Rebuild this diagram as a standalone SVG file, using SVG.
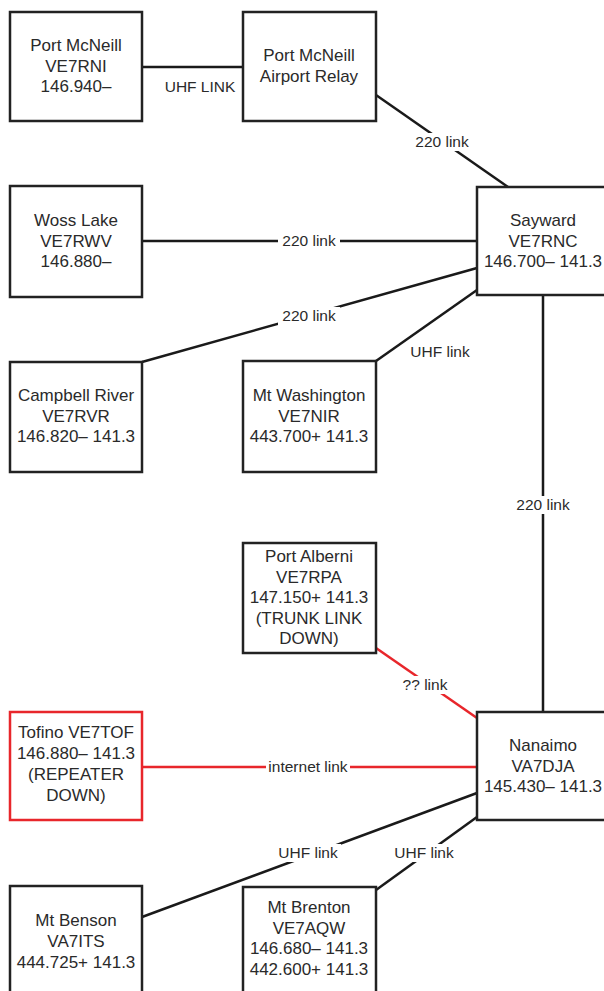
<svg xmlns="http://www.w3.org/2000/svg" width="604" height="991" viewBox="0 0 604 991">
<style>
.box{fill:#fff;stroke:#222;stroke-width:2.5}
.down{fill:#fff;stroke:#e8262b;stroke-width:2.5}
.t{font-family:"Liberation Sans",Arial,sans-serif;font-size:17px;fill:#2a2a2a;text-anchor:middle}
.e{stroke:#1a1a1a;stroke-width:2.5;fill:none}
.r{stroke:#e8262b;stroke-width:2.5;fill:none}
.l{font-family:"Liberation Sans",Arial,sans-serif;font-size:15.5px;fill:#2a2a2a;text-anchor:middle}
.bg{fill:#fff}
</style>
<rect width="604" height="991" fill="#fff"/>
<g id="connectors">
<line class="e" x1="142" y1="67" x2="243" y2="67"/>
<line class="e" x1="376" y1="95" x2="508" y2="187"/>
<line class="e" x1="142" y1="241" x2="477" y2="241"/>
<line class="e" x1="142" y1="362" x2="477" y2="268"/>
<line class="e" x1="376" y1="361" x2="477" y2="290"/>
<line class="e" x1="543" y1="295" x2="543" y2="712"/>
<line class="r" x1="376" y1="648" x2="477" y2="718"/>
<line class="r" x1="142" y1="767" x2="477" y2="767"/>
<line class="e" x1="142" y1="917" x2="477" y2="793"/>
<line class="e" x1="376" y1="890" x2="477" y2="817"/>
<rect class="bg" x="412" y="133" width="60" height="18"/>
<rect class="bg" x="278" y="232" width="62" height="18"/>
<rect class="bg" x="278" y="307" width="62" height="18"/>
<rect class="bg" x="512" y="496" width="62" height="18"/>
<rect class="bg" x="400" y="676" width="50" height="18"/>
<rect class="bg" x="266" y="758" width="84" height="18"/>
<rect class="bg" x="275" y="844" width="66" height="18"/>
<rect class="bg" x="391" y="844" width="66" height="18"/>
<text class="l" x="200" y="92">UHF LINK</text>
<text class="l" x="442" y="147">220 link</text>
<text class="l" x="309" y="246">220 link</text>
<text class="l" x="309" y="321">220 link</text>
<text class="l" x="440" y="357">UHF link</text>
<text class="l" x="543" y="510">220 link</text>
<text class="l" x="425" y="690">?? link</text>
<text class="l" x="308" y="772">internet link</text>
<text class="l" x="308" y="858">UHF link</text>
<text class="l" x="424" y="858">UHF link</text>
</g>
<g id="port-mcneill">
<rect class="box" x="10" y="12" width="132" height="109"/>
<text class="t" x="76" y="51">Port McNeill</text>
<text class="t" x="76" y="72">VE7RNI</text>
<text class="t" x="76" y="92">146.940–</text>
</g>
<g id="airport-relay">
<rect class="box" x="243" y="12" width="133" height="109"/>
<text class="t" x="309" y="61">Port McNeill</text>
<text class="t" x="309" y="82">Airport Relay</text>
</g>
<g id="woss-lake">
<rect class="box" x="10" y="186" width="132" height="111"/>
<text class="t" x="76" y="226">Woss Lake</text>
<text class="t" x="76" y="247">VE7RWV</text>
<text class="t" x="76" y="267">146.880–</text>
</g>
<g id="sayward">
<rect class="box" x="477" y="187" width="133" height="108"/>
<text class="t" x="543" y="226">Sayward</text>
<text class="t" x="543" y="247">VE7RNC</text>
<text class="t" x="543" y="267">146.700– 141.3</text>
</g>
<g id="campbell-river">
<rect class="box" x="10" y="362" width="132" height="110"/>
<text class="t" x="76" y="401">Campbell River</text>
<text class="t" x="76" y="422">VE7RVR</text>
<text class="t" x="76" y="442">146.820– 141.3</text>
</g>
<g id="mt-washington">
<rect class="box" x="243" y="361" width="133" height="111"/>
<text class="t" x="309" y="401">Mt Washington</text>
<text class="t" x="309" y="422">VE7NIR</text>
<text class="t" x="309" y="442">443.700+ 141.3</text>
</g>
<g id="port-alberni">
<rect class="box" x="243" y="543" width="133" height="110"/>
<text class="t" x="309" y="562">Port Alberni</text>
<text class="t" x="309" y="583">VE7RPA</text>
<text class="t" x="309" y="603">147.150+ 141.3</text>
<text class="t" x="309" y="624">(TRUNK LINK</text>
<text class="t" x="309" y="644">DOWN)</text>
</g>
<g id="tofino">
<rect class="down" x="10" y="712" width="132" height="108"/>
<text class="t" x="76" y="738">Tofino VE7TOF</text>
<text class="t" x="76" y="759">146.880– 141.3</text>
<text class="t" x="76" y="780">(REPEATER</text>
<text class="t" x="76" y="801">DOWN)</text>
</g>
<g id="nanaimo">
<rect class="box" x="477" y="712" width="133" height="108"/>
<text class="t" x="543" y="751">Nanaimo</text>
<text class="t" x="543" y="772">VA7DJA</text>
<text class="t" x="543" y="792">145.430– 141.3</text>
</g>
<g id="mt-benson">
<rect class="box" x="10" y="886" width="132" height="111"/>
<text class="t" x="76" y="926">Mt Benson</text>
<text class="t" x="76" y="947">VA7ITS</text>
<text class="t" x="76" y="968">444.725+ 141.3</text>
</g>
<g id="mt-brenton">
<rect class="box" x="243" y="887" width="133" height="110"/>
<text class="t" x="309" y="913">Mt Brenton</text>
<text class="t" x="309" y="934">VE7AQW</text>
<text class="t" x="309" y="954">146.680– 141.3</text>
<text class="t" x="309" y="975">442.600+ 141.3</text>
</g>
</svg>
